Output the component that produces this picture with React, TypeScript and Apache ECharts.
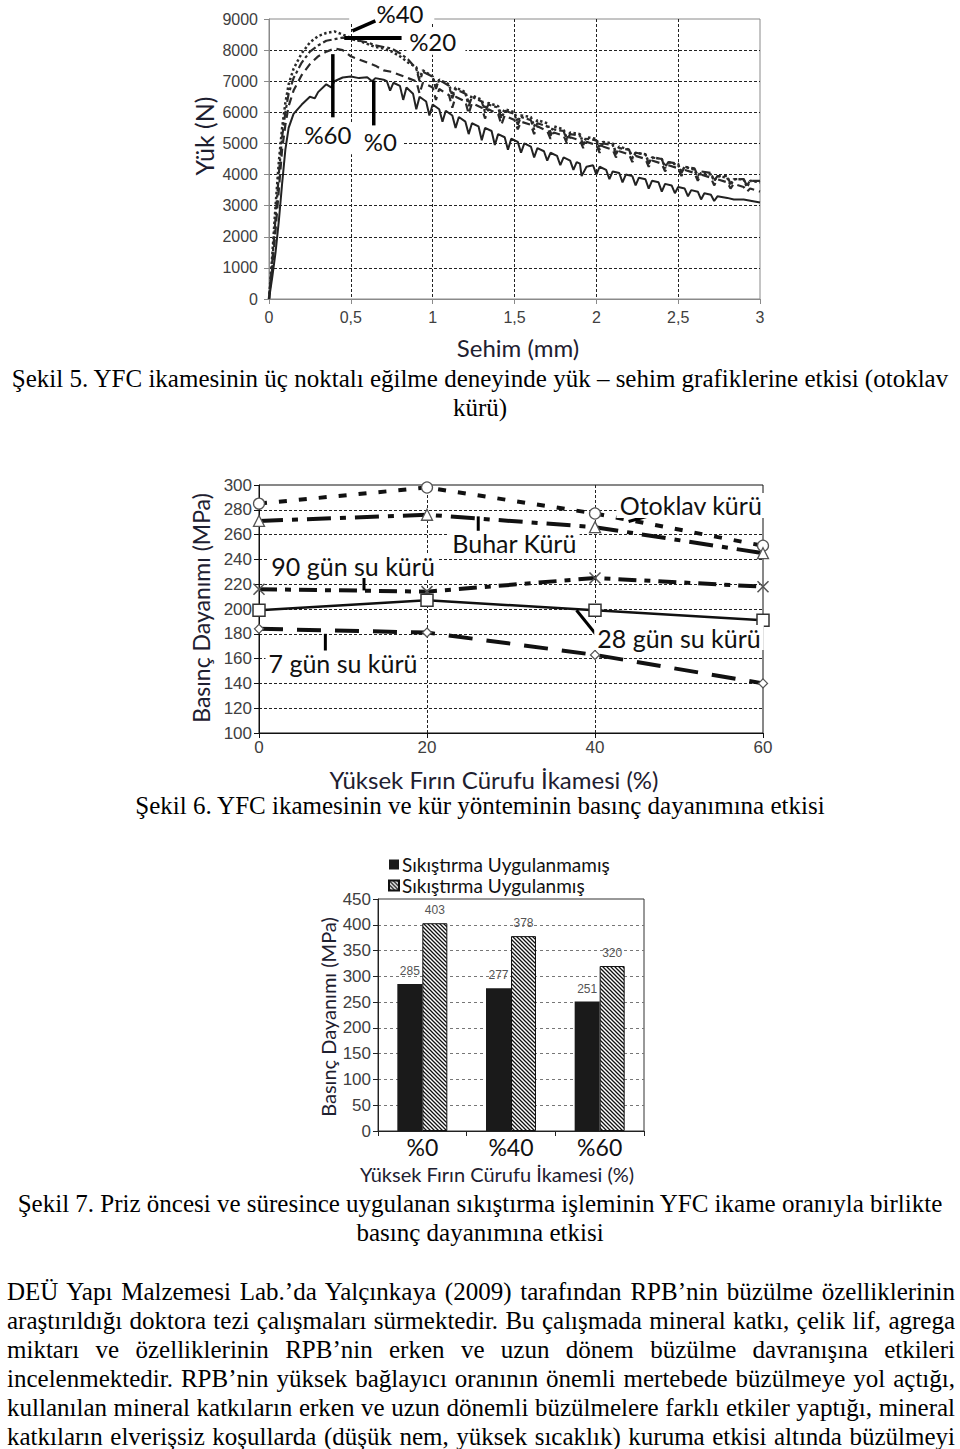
import React, { useEffect, useRef } from "react";
import * as echarts from "echarts";

// ---------- Chart 1: Yük – Sehim (load vs deflection) ----------
const curvePct0: [number, number][] = [
  [0, 0], [0.02, 700], [0.04, 1500], [0.06, 2500], [0.08, 3700], [0.1, 4800], [0.12, 5500], [0.15, 5950],
  [0.2, 6250], [0.25, 6500], [0.28, 6450], [0.3, 6650], [0.35, 6900], [0.38, 6800], [0.4, 7000], [0.45, 7120],
  [0.5, 7150], [0.55, 7100], [0.6, 7130], [0.63, 7000], [0.65, 7100], [0.7, 7050], [0.72, 7000], [0.74, 6700],
  [0.76, 6950], [0.8, 6850], [0.82, 6400], [0.84, 6800], [0.88, 6600], [0.9, 6100], [0.92, 6500], [0.96, 6350],
  [0.98, 5900], [1.0, 6250], [1.04, 6100], [1.06, 5700], [1.08, 6050], [1.12, 5900], [1.14, 5500], [1.16, 5850],
  [1.2, 5700], [1.22, 5300], [1.24, 5650], [1.28, 5550], [1.3, 5100], [1.32, 5500], [1.36, 5400], [1.38, 4950],
  [1.4, 5300], [1.44, 5200], [1.46, 4800], [1.48, 5150], [1.52, 5050], [1.54, 4700], [1.56, 5000], [1.6, 4900],
  [1.62, 4550], [1.64, 4850], [1.68, 4750], [1.7, 4450], [1.72, 4700], [1.76, 4600], [1.78, 4300], [1.8, 4550],
  [1.84, 4450], [1.86, 4150], [1.88, 4400], [1.9, 4350], [1.91, 3950], [1.94, 4250], [1.98, 4300], [2.0, 4000],
  [2.02, 4250], [2.06, 4150], [2.08, 3850], [2.1, 4100], [2.14, 4050], [2.16, 3750], [2.18, 4000], [2.22, 3950],
  [2.24, 3650], [2.26, 3900], [2.3, 3850], [2.32, 3550], [2.34, 3800], [2.38, 3750], [2.4, 3450], [2.42, 3700],
  [2.46, 3650], [2.48, 3400], [2.5, 3600], [2.54, 3550], [2.56, 3300], [2.58, 3500], [2.62, 3450], [2.64, 3200],
  [2.66, 3400], [2.7, 3350], [2.72, 3150], [2.74, 3300], [2.8, 3250], [2.84, 3200], [2.9, 3200], [2.95, 3150],
  [3.0, 3100],
];

const curvePct20: [number, number][] = [
  [0, 0], [0.02, 1200], [0.04, 2600], [0.06, 4000], [0.08, 5200], [0.1, 6000], [0.12, 6600], [0.15, 7100],
  [0.2, 7600], [0.25, 7950], [0.3, 8150], [0.35, 8300], [0.4, 8350], [0.45, 8400], [0.5, 8350], [0.55, 8300],
  [0.6, 8250], [0.65, 8150], [0.7, 8100], [0.75, 8050], [0.8, 7900], [0.85, 7700], [0.9, 7400], [0.92, 7000],
  [0.94, 7300], [1.0, 7150], [1.02, 6750], [1.04, 7050], [1.1, 6850], [1.12, 6450], [1.14, 6750], [1.2, 6600],
  [1.22, 6200], [1.24, 6500], [1.3, 6350], [1.32, 6000], [1.34, 6250], [1.4, 6150], [1.42, 5800], [1.44, 6050],
  [1.5, 5950], [1.52, 5600], [1.54, 5850], [1.6, 5750], [1.62, 5450], [1.64, 5650], [1.7, 5550], [1.72, 5250],
  [1.74, 5450], [1.8, 5400], [1.82, 5100], [1.84, 5300], [1.9, 5250], [1.92, 4950], [1.94, 5150], [2.0, 5100],
  [2.02, 4800], [2.04, 5000], [2.1, 4950], [2.12, 4650], [2.14, 4850], [2.2, 4800], [2.22, 4500], [2.24, 4700],
  [2.3, 4650], [2.32, 4350], [2.34, 4550], [2.4, 4500], [2.42, 4200], [2.44, 4400], [2.5, 4350], [2.52, 4050],
  [2.54, 4250], [2.6, 4200], [2.62, 3950], [2.64, 4100], [2.7, 4050], [2.72, 3800], [2.74, 3950], [2.8, 3950],
  [2.82, 3700], [2.84, 3850], [2.9, 3850], [2.92, 3650], [2.94, 3800], [3.0, 3800],
];

const curvePct40: [number, number][] = [
  [0, 0], [0.02, 1400], [0.04, 3000], [0.06, 4400], [0.08, 5500], [0.1, 6300], [0.12, 6900], [0.15, 7400],
  [0.2, 7900], [0.25, 8250], [0.3, 8450], [0.35, 8550], [0.4, 8600], [0.45, 8500], [0.5, 8400], [0.55, 8300],
  [0.6, 8200], [0.65, 8100], [0.7, 8050], [0.75, 7950], [0.8, 7800], [0.85, 7600], [0.9, 7450], [0.92, 7100],
  [0.94, 7350], [1.0, 7150], [1.02, 6800], [1.04, 7050], [1.1, 6900], [1.12, 6550], [1.14, 6800], [1.2, 6650],
  [1.22, 6300], [1.24, 6550], [1.3, 6400], [1.32, 6100], [1.34, 6300], [1.4, 6200], [1.42, 5900], [1.44, 6100],
  [1.5, 6000], [1.52, 5700], [1.54, 5900], [1.6, 5850], [1.62, 5550], [1.64, 5750], [1.7, 5650], [1.72, 5350],
  [1.74, 5550], [1.8, 5450], [1.82, 5150], [1.84, 5350], [1.9, 5300], [1.92, 5000], [1.94, 5200], [2.0, 5150],
  [2.02, 4850], [2.04, 5050], [2.1, 5000], [2.12, 4700], [2.14, 4900], [2.2, 4800], [2.22, 4550], [2.24, 4700],
  [2.3, 4650], [2.32, 4400], [2.34, 4550], [2.4, 4500], [2.42, 4250], [2.44, 4400], [2.5, 4300], [2.52, 4100],
  [2.54, 4250], [2.6, 4150], [2.62, 3900], [2.64, 4050], [2.7, 4000], [2.72, 3800], [2.74, 3950], [2.8, 3900],
  [2.82, 3650], [2.84, 3850], [2.9, 3850], [2.92, 3600], [2.94, 3800], [3.0, 3750],
];

const curvePct60: [number, number][] = [
  [0, 0], [0.02, 1000], [0.04, 2200], [0.06, 3500], [0.08, 4800], [0.1, 5600], [0.12, 6200], [0.15, 6700],
  [0.2, 7200], [0.25, 7550], [0.3, 7800], [0.35, 7950], [0.4, 8050], [0.45, 8000], [0.5, 7800], [0.55, 7700],
  [0.6, 7600], [0.65, 7500], [0.7, 7350], [0.75, 7300], [0.8, 7200], [0.85, 7100], [0.9, 7000], [0.92, 6600],
  [0.94, 6950], [1.0, 6800], [1.02, 6400], [1.04, 6750], [1.1, 6550], [1.12, 6150], [1.14, 6500], [1.2, 6350],
  [1.22, 5950], [1.24, 6300], [1.3, 6150], [1.32, 5800], [1.34, 6100], [1.4, 5950], [1.42, 5600], [1.44, 5900],
  [1.5, 5750], [1.52, 5450], [1.54, 5700], [1.6, 5600], [1.62, 5300], [1.64, 5550], [1.7, 5400], [1.72, 5150],
  [1.74, 5350], [1.8, 5250], [1.82, 5000], [1.84, 5200], [1.9, 5100], [1.92, 4850], [1.94, 5050], [2.0, 4950],
  [2.02, 4700], [2.04, 4900], [2.1, 4800], [2.12, 4550], [2.14, 4750], [2.2, 4650], [2.22, 4400], [2.24, 4600],
  [2.3, 4500], [2.32, 4250], [2.34, 4450], [2.4, 4350], [2.42, 4100], [2.44, 4300], [2.5, 4200], [2.52, 3950],
  [2.54, 4150], [2.6, 4050], [2.62, 3800], [2.64, 4000], [2.7, 3900], [2.72, 3650], [2.74, 3850], [2.8, 3750],
  [2.82, 3550], [2.84, 3700], [2.9, 3600], [2.92, 3450], [2.94, 3550], [3.0, 3450],
];

// ---------- Chart 2: Basınç dayanımı vs YFC ikamesi ----------
const slagPercents = [0, 20, 40, 60];
const otoklavKuru = [285, 298, 277, 251];
const buharKuru = [271, 276, 266, 245];
const su90 = [216, 214, 225, 218];
const su28 = [199, 207, 199, 191];
const su7 = [184, 181, 163, 140];

// ---------- Chart 3: bars ----------
const barCategories = ["%0", "%40", "%60"];
const notCompacted = [285, 277, 251];
const compacted = [403, 378, 320];

const SANS = "Liberation Sans";
const CAL = "Lato";
const SERIF = "'Liberation Serif', 'Times New Roman', serif";

const fmtComma = (v: number) => String(v).replace(".", ",");
const fmtPlain = (v: number) => String(v);

function makeHatch(): HTMLCanvasElement {
  const c = document.createElement("canvas");
  const s = 4;
  c.width = s;
  c.height = s;
  const ctx = c.getContext("2d")!;
  ctx.fillStyle = "#fff";
  ctx.fillRect(0, 0, s, s);
  ctx.strokeStyle = "#111";
  ctx.lineWidth = 1.3;
  ctx.beginPath();
  ctx.moveTo(0, 0); ctx.lineTo(s, s);
  ctx.moveTo(-1, s - 1); ctx.lineTo(1, s + 1);
  ctx.moveTo(s - 1, -1); ctx.lineTo(s + 1, 1);
  ctx.stroke();
  return c;
}

export default function App() {
  const ref = useRef<HTMLDivElement>(null);

  useEffect(() => {
    if (!ref.current) return;
    const chart = echarts.init(ref.current, undefined, { renderer: "svg" });
    const hatch = makeHatch();

    const tickLbl = (size: number, margin: number, extra: any = {}) => ({
      fontSize: size, color: "#404040", fontFamily: SANS, margin, formatter: fmtPlain, ...extra,
    });
    const dashed = (color: string, type: any) => ({
      show: true, showMinLine: false, showMaxLine: false, lineStyle: { color, type, width: 1 },
    });

    const c2 = (arr: number[]) => slagPercents.map((x, i) => [x, arr[i]]);
    const hollow = (border: string, bw: number) => ({ color: "#fff", borderColor: border, borderWidth: bw });

    const option: any = {
      animation: false,
      grid: [
        { left: 269, top: 19, width: 491, height: 280, show: true, borderColor: "#8a8a8a", borderWidth: 1, backgroundColor: "transparent" },
        { left: 259, top: 485, width: 504, height: 248, show: true, borderColor: "#111", borderWidth: 1, backgroundColor: "transparent" },
        { left: 378, top: 899, width: 266, height: 232, show: true, borderColor: "#333", borderWidth: 1, backgroundColor: "transparent" },
      ],
      xAxis: [
        {
          gridIndex: 0, type: "value", min: 0, max: 3, interval: 0.5,
          axisLine: { show: true, lineStyle: { color: "#8a8a8a" } },
          axisTick: { show: true, length: 5, lineStyle: { color: "#8a8a8a" } },
          axisLabel: tickLbl(16, 10, { formatter: fmtComma }),
          splitLine: dashed("#222", [3, 2]),
        },
        {
          gridIndex: 1, type: "value", min: 0, max: 60, interval: 20,
          axisLine: { show: true, lineStyle: { color: "#111" } },
          axisTick: { show: true, length: 5, lineStyle: { color: "#111" } },
          axisLabel: tickLbl(17, 6),
          splitLine: dashed("#222", [3, 2]),
        },
        {
          gridIndex: 2, type: "category", data: barCategories,
          axisLine: { show: true, lineStyle: { color: "#222" } },
          axisTick: { show: true, length: 5, lineStyle: { color: "#222" } },
          axisLabel: { fontSize: 23, lineHeight: 22, color: "#111", fontFamily: CAL, margin: 5 },
          splitLine: { show: false },
        },
      ],
      yAxis: [
        {
          gridIndex: 0, type: "value", min: 0, max: 9000, interval: 1000,
          axisLine: { show: true, lineStyle: { color: "#8a8a8a" } },
          axisTick: { show: true, length: 5, lineStyle: { color: "#8a8a8a" } },
          axisLabel: tickLbl(16, 11),
          splitLine: dashed("#222", [3, 2]),
        },
        {
          gridIndex: 1, type: "value", min: 100, max: 300, interval: 20,
          axisLine: { show: true, lineStyle: { color: "#111" } },
          axisTick: { show: true, length: 5, lineStyle: { color: "#111" } },
          axisLabel: tickLbl(17, 7),
          splitLine: dashed("#222", [3, 2]),
        },
        {
          gridIndex: 2, type: "value", min: 0, max: 450, interval: 50,
          axisLine: { show: true, lineStyle: { color: "#222" } },
          axisTick: { show: true, length: 5, lineStyle: { color: "#222" } },
          axisLabel: tickLbl(17, 7),
          splitLine: dashed("#777", [3, 3]),
        },
      ],
      legend: {
        orient: "vertical", left: 388, top: 855, itemWidth: 10, itemHeight: 10, itemGap: 2,
        icon: "rect", padding: 0,
        textStyle: { fontSize: 19, lineHeight: 19, fontFamily: CAL, color: "#111", padding: [0, 0, 0, -2] },
        data: ["Sıkıştırma Uygulanmamış", "Sıkıştırma Uygulanmış"],
      },
      series: [
        { name: "%0", type: "line", xAxisIndex: 0, yAxisIndex: 0, data: curvePct0, showSymbol: false,
          lineStyle: { color: "#222", width: 2 }, z: 4 },
        { name: "%60", type: "line", xAxisIndex: 0, yAxisIndex: 0, data: curvePct60, showSymbol: false,
          lineStyle: { color: "#2a2a2a", width: 2.2, type: [8, 5] }, z: 3 },
        { name: "%20", type: "line", xAxisIndex: 0, yAxisIndex: 0, data: curvePct20, showSymbol: false,
          lineStyle: { color: "#2a2a2a", width: 2.2, type: [9, 3, 3, 3] }, z: 3 },
        { name: "%40", type: "line", xAxisIndex: 0, yAxisIndex: 0, data: curvePct40, showSymbol: false,
          lineStyle: { color: "#2a2a2a", width: 2.5, type: [2.5, 2.5] }, z: 3 },

        { name: "Otoklav kürü", type: "line", xAxisIndex: 1, yAxisIndex: 1, data: c2(otoklavKuru),
          symbol: "circle", symbolSize: 11, itemStyle: hollow("#555", 1.3),
          lineStyle: { color: "#111", width: 4, type: [8, 12] }, z: 3 },
        { name: "Buhar Kürü", type: "line", xAxisIndex: 1, yAxisIndex: 1, data: c2(buharKuru),
          symbol: "triangle", symbolSize: 11, itemStyle: hollow("#555", 1.3),
          lineStyle: { color: "#111", width: 4, type: [24, 9, 6, 9] }, z: 3 },
        { name: "90 gün su kürü", type: "line", xAxisIndex: 1, yAxisIndex: 1, data: c2(su90),
          symbol: "path://M0,0L10,10M10,0L0,10", symbolSize: 11, itemStyle: hollow("#555", 1.5),
          lineStyle: { color: "#111", width: 4, type: [18, 8, 6, 8] }, z: 3 },
        { name: "28 gün su kürü", type: "line", xAxisIndex: 1, yAxisIndex: 1, data: c2(su28),
          symbol: "rect", symbolSize: 12, itemStyle: hollow("#333", 1.5),
          lineStyle: { color: "#111", width: 2.5 }, z: 3 },
        { name: "7 gün su kürü", type: "line", xAxisIndex: 1, yAxisIndex: 1, data: c2(su7),
          symbol: "diamond", symbolSize: 9, itemStyle: hollow("#555", 1.3),
          lineStyle: { color: "#111", width: 4, type: [24, 14] }, z: 3 },

        { name: "Sıkıştırma Uygulanmamış", type: "bar", xAxisIndex: 2, yAxisIndex: 2, data: notCompacted,
          barWidth: 25, barGap: "0%", itemStyle: { color: "#1a1a1a" },
          label: { show: true, position: "top", distance: 7, fontSize: 12, color: "#555", fontFamily: SANS } },
        { name: "Sıkıştırma Uygulanmış", type: "bar", xAxisIndex: 2, yAxisIndex: 2, data: compacted,
          barWidth: 25, barGap: "0%",
          itemStyle: { color: { image: hatch, repeat: "repeat" }, borderColor: "#111", borderWidth: 1 },
          label: { show: true, position: "top", distance: 7, fontSize: 12, color: "#555", fontFamily: SANS } },
      ],
    };

    chart.setOption(option);

    const px = (gi: number, x: number, y: number) =>
      chart.convertToPixel({ gridIndex: gi } as any, [x, y]) as number[];

    const els: any[] = [];
    const title = (text: string, x: number, y: number, size: number, rot = 0) =>
      els.push({
        type: "text", x, y, rotation: rot, z: 100,
        style: { text, fill: "#1e2030", fontSize: size, fontFamily: CAL, textAlign: "center", verticalAlign: "middle" },
      });
    // axis titles
    title("Yük (N)", 204, 136, 25, Math.PI / 2);
    title("Sehim (mm)", 518, 347, 24);
    title("Basınç Dayanımı (MPa)", 201, 608, 23, Math.PI / 2);
    title("Yüksek Fırın Cürufu İkamesi (%)", 494, 779, 24);
    title("Basınç Dayanımı (MPa)", 328, 1017, 20, Math.PI / 2);
    title("Yüksek Fırın Cürufu İkamesi (%)", 497, 1174, 20);

    // chart 1 annotation boxes, leaders, labels (data units)
    const boxes1 = [[0.49, 8880, 1.01, 9600], [0.84, 7850, 1.2, 8700], [0.23, 4650, 0.82, 5650]];
    boxes1.forEach(([x1, y1, x2, y2]) => {
      const a = px(0, x1, y2), b = px(0, x2, y1);
      els.push({ type: "rect", z: 90, shape: { x: a[0], y: a[1], width: b[0] - a[0], height: b[1] - a[1] }, style: { fill: "#fff" } });
    });
    const leader = (gi: number, x1: number, y1: number, x2: number, y2: number, w: number) => {
      const a = px(gi, x1, y1), b = px(gi, x2, y2);
      els.push({ type: "line", z: 95, shape: { x1: a[0], y1: a[1], x2: b[0], y2: b[1] }, style: { stroke: "#000", lineWidth: w } });
    };
    const note = (gi: number, text: string, x: number, y: number, size: number, bg: boolean) => {
      const p = px(gi, x, y);
      els.push({
        type: "text", x: p[0], y: p[1], z: 96,
        style: {
          text, fill: "#111", fontSize: size, fontFamily: CAL, textAlign: "center", verticalAlign: "middle",
          backgroundColor: bg ? "#fff" : undefined, padding: bg ? [0, 3, 0, 3] : 0,
        },
      });
    };
    leader(0, 0.51, 8620, 0.65, 8940, 3.5);
    leader(0, 0.46, 8390, 0.81, 8390, 4);
    leader(0, 0.39, 7870, 0.39, 5840, 3.5);
    leader(0, 0.64, 7020, 0.64, 5580, 3.5);
    note(0, "%40", 0.8, 9170, 24, false);
    note(0, "%20", 1.0, 8280, 24, false);
    note(0, "%60", 0.36, 5300, 24, false);
    note(0, "%0", 0.68, 5060, 24, false);

    // chart 2 annotations
    note(1, "Otoklav kürü", 51.4, 283.5, 25, true);
    note(1, "Buhar Kürü", 30.4, 253, 25, true);
    note(1, "90 gün su kürü", 11.2, 235, 25, true);
    note(1, "28 gün su kürü", 50, 177, 25, true);
    note(1, "7 gün su kürü", 10, 156.5, 25, true);
    leader(1, 44, 270.6, 48.5, 279, 3);
    leader(1, 26.1, 274.7, 26.1, 258.4, 3);
    leader(1, 12.5, 226.5, 12.5, 215, 3);
    leader(1, 37.8, 199, 40.1, 179.6, 3);
    leader(1, 7.9, 180, 7.9, 164.5, 3);

    chart.setOption({ graphic: { elements: els } });

    return () => chart.dispose();
  }, []);

  const line = (text: string, top: number, opts: any = {}) => (
    <div
      style={{
        position: "absolute", top, left: 0, width: 960, height: 29, lineHeight: "29px",
        fontFamily: SERIF, fontSize: 25, color: "#000", textAlign: "center", whiteSpace: "nowrap",
        ...opts,
      }}
    >
      {text}
    </div>
  );
  const just = (text: string, top: number) =>
    line(text, top, { left: 7, width: 948, textAlign: "justify", textAlignLast: "justify" });

  return (
    <div style={{ position: "absolute", left: 0, top: 0, width: 960, height: 1449, background: "#fff", overflow: "hidden" }}>
      <div ref={ref} style={{ position: "absolute", left: 0, top: 0, width: 960, height: 1190 }} />
      {line("Şekil 5. YFC ikamesinin üç noktalı eğilme deneyinde yük – sehim grafiklerine etkisi (otoklav", 363.5)}
      {line("kürü)", 392.5)}
      {line("Şekil 6. YFC ikamesinin ve kür yönteminin basınç dayanımına etkisi", 790.5)}
      {line("Şekil 7. Priz öncesi ve süresince uygulanan sıkıştırma işleminin YFC ikame oranıyla birlikte", 1188.5)}
      {line("basınç dayanımına etkisi", 1217.5)}
      {just("DEÜ Yapı Malzemesi Lab.’da  Yalçınkaya (2009) tarafından RPB’nin büzülme özelliklerinin", 1276.5)}
      {just("araştırıldığı doktora tezi çalışmaları sürmektedir. Bu çalışmada mineral katkı, çelik lif, agrega", 1305.5)}
      {just("miktarı ve özelliklerinin RPB’nin erken ve uzun dönem büzülme davranışına etkileri", 1334.5)}
      {just("incelenmektedir. RPB’nin yüksek bağlayıcı oranının önemli mertebede büzülmeye yol açtığı,", 1363.5)}
      {just("kullanılan mineral katkıların erken ve uzun dönemli büzülmelere farklı etkiler yaptığı, mineral", 1392.5)}
      {just("katkıların elverişsiz koşullarda (düşük nem, yüksek sıcaklık) kuruma etkisi altında büzülmeyi", 1421.5)}
    </div>
  );
}
